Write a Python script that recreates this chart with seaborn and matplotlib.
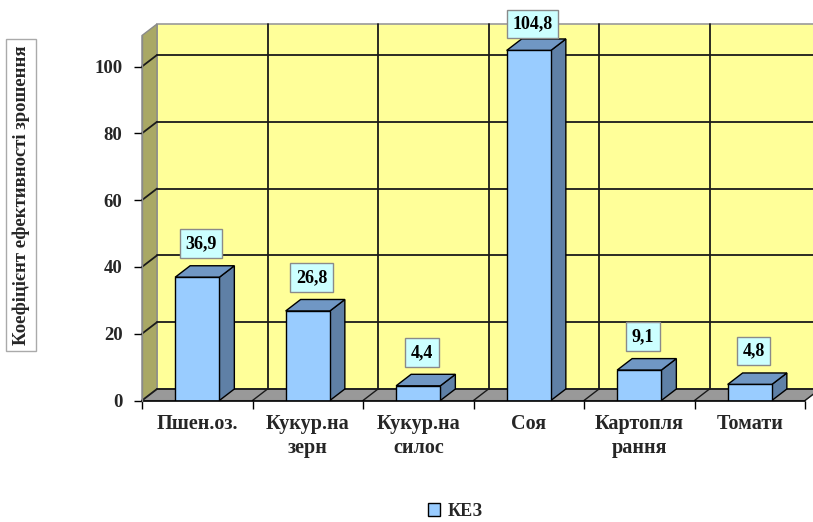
import matplotlib
matplotlib.use("Agg")
import matplotlib.pyplot as plt
import matplotlib.patches as mpatches
from matplotlib.patches import Polygon
import seaborn as sns
import pandas as pd

categories = ["Пшен.оз.", "Кукур.на\nзерн", "Кукур.на\nсилос", "Соя", "Картопля\nрання", "Томати"]
values = [36.9, 26.8, 4.4, 104.8, 9.1, 4.8]
value_labels = ["36,9", "26,8", "4,4", "104,8", "9,1", "4,8"]
series_name = "КЕЗ"
y_ticks = [0, 20, 40, 60, 80, 100]
y_label = "Коефіцієнт ефективності зрошення"

sns.set_theme(style="white")
plt.rcParams["font.family"] = ["Liberation Serif", "DejaVu Serif"]
plt.rcParams["font.weight"] = "bold"

W, H = 813, 522
fig = plt.figure(figsize=(W / 100, H / 100), dpi=100)
fig.patch.set_facecolor("white")

x_left, x_right = 142, 805
y_zero = 400.5
ppu = 3.34
YMAX = 110
ax = fig.add_axes([x_left / W, (H - y_zero) / H, (x_right - x_left) / W, YMAX * ppu / H])
ax.patch.set_alpha(0)

df = pd.DataFrame({"cat": categories, "val": values})
sns.barplot(data=df, x="cat", y="val", color="#99ccff", saturation=1, width=0.4,
            edgecolor="black", linewidth=1.0, ax=ax, zorder=5)
ax.set_xlim(-0.5, len(categories) - 0.5)
ax.set_ylim(0, YMAX)

cat_px = (x_right - x_left) / len(categories)
DX = 15 / cat_px
DY = 11.5 / ppu
YTOP = (y_zero - 24) / ppu - DY
n = len(categories)
xl, xr = -0.5, n - 0.5

# walls and floor
ax.add_patch(Polygon([(xl + DX, DY), (xr + DX, DY), (xr + DX, YTOP + DY), (xl + DX, YTOP + DY)],
                     closed=True, facecolor="#ffff99", edgecolor="#999999", lw=1.2, zorder=0, clip_on=False))
ax.add_patch(Polygon([(xl, 0), (xl + DX, DY), (xl + DX, YTOP + DY), (xl, YTOP)],
                     closed=True, facecolor="#a9a865", edgecolor="#8a8a8a", lw=1.0, zorder=0, clip_on=False))
ax.add_patch(Polygon([(xl, 0), (xr, 0), (xr + DX, DY), (xl + DX, DY)],
                     closed=True, facecolor="#999999", edgecolor="#777777", lw=0.8, zorder=1, clip_on=False))

# gridlines
for v in y_ticks:
    ax.plot([xl + DX, xr + DX], [v + DY, v + DY], color="#1a1a1a", lw=1.3, zorder=2, clip_on=False)
    ax.plot([xl, xl + DX], [v, v + DY], color="#1a1a1a", lw=1.3, zorder=2, clip_on=False)
for i in range(1, n + 1):
    xb = i - 0.5
    ax.plot([xb + DX, xb + DX], [DY, YTOP + DY], color="#1a1a1a", lw=1.3, zorder=2, clip_on=False)
    ax.plot([xb, xb + DX], [0, DY], color="#1a1a1a", lw=1.0, zorder=2, clip_on=False)

# 3D faces of bars
bars = [pp for pp in ax.patches if pp.get_zorder() == 5]
for p, lab in zip(bars, value_labels):
    x0 = p.get_x()
    x1 = x0 + p.get_width()
    h = p.get_height()
    ax.add_patch(Polygon([(x1, 0), (x1 + DX, DY), (x1 + DX, h + DY), (x1, h)], closed=True,
                         facecolor="#5f80a6", edgecolor="black", lw=1.0, zorder=4, clip_on=False))
    ax.add_patch(Polygon([(x0, h), (x1, h), (x1 + DX, h + DY), (x0 + DX, h + DY)], closed=True,
                         facecolor="#7097c4", edgecolor="black", lw=1.0, zorder=4, clip_on=False))
    ly = min(h + DY + 22 / ppu, (y_zero - 24) / ppu)
    ax.text((x0 + x1) / 2 + DX * 0.25, ly, lab, ha="center", va="center", fontsize=13,
            fontweight="bold", color="black", zorder=8, clip_on=False,
            bbox=dict(boxstyle="square,pad=0.32", facecolor="#ccffff", edgecolor="#8a8a8a", lw=1.0))

# front axis line
ax.plot([xl, xr], [0, 0], color="black", lw=1.2, zorder=6, clip_on=False)
ax.plot([xl, xl], [0, YTOP], color="#8a8a8a", lw=1.0, zorder=6, clip_on=False)

for s in ax.spines.values():
    s.set_visible(False)
ax.set_xlabel("")
ax.set_ylabel("")
ax.set_yticks(y_ticks)
ax.set_yticklabels([str(v) for v in y_ticks], fontsize=13.5, fontweight="bold")
ax.tick_params(axis="y", left=True, length=6, width=1.0, color="black", pad=8)
ax.set_xticks(range(n))
ax.set_xticklabels(categories, fontsize=14.5, fontweight="bold", linespacing=1.25)
ax.tick_params(axis="x", bottom=False, length=0, pad=10)
ax.set_xticks([i - 0.5 for i in range(n + 1)], minor=True)
ax.tick_params(axis="x", which="minor", bottom=True, length=6, width=1.0, color="black")

fig.text(21 / W, 1 - 195 / H, y_label, rotation=90, ha="center", va="center", fontsize=13.5,
         fontweight="bold",
         bbox=dict(boxstyle="square,pad=0.35", facecolor="white", edgecolor="#aaaaaa", lw=1.0))

handle = mpatches.Patch(facecolor="#99ccff", edgecolor="black", lw=1.0, label=series_name)
fig.legend(handles=[handle], loc="center", bbox_to_anchor=(455 / W, 1 - 511 / H), frameon=False,
           prop={"weight": "bold", "size": 13}, handlelength=0.7, handleheight=0.7, handletextpad=0.4)

fig.savefig("out.png", dpi=100, facecolor="white")
